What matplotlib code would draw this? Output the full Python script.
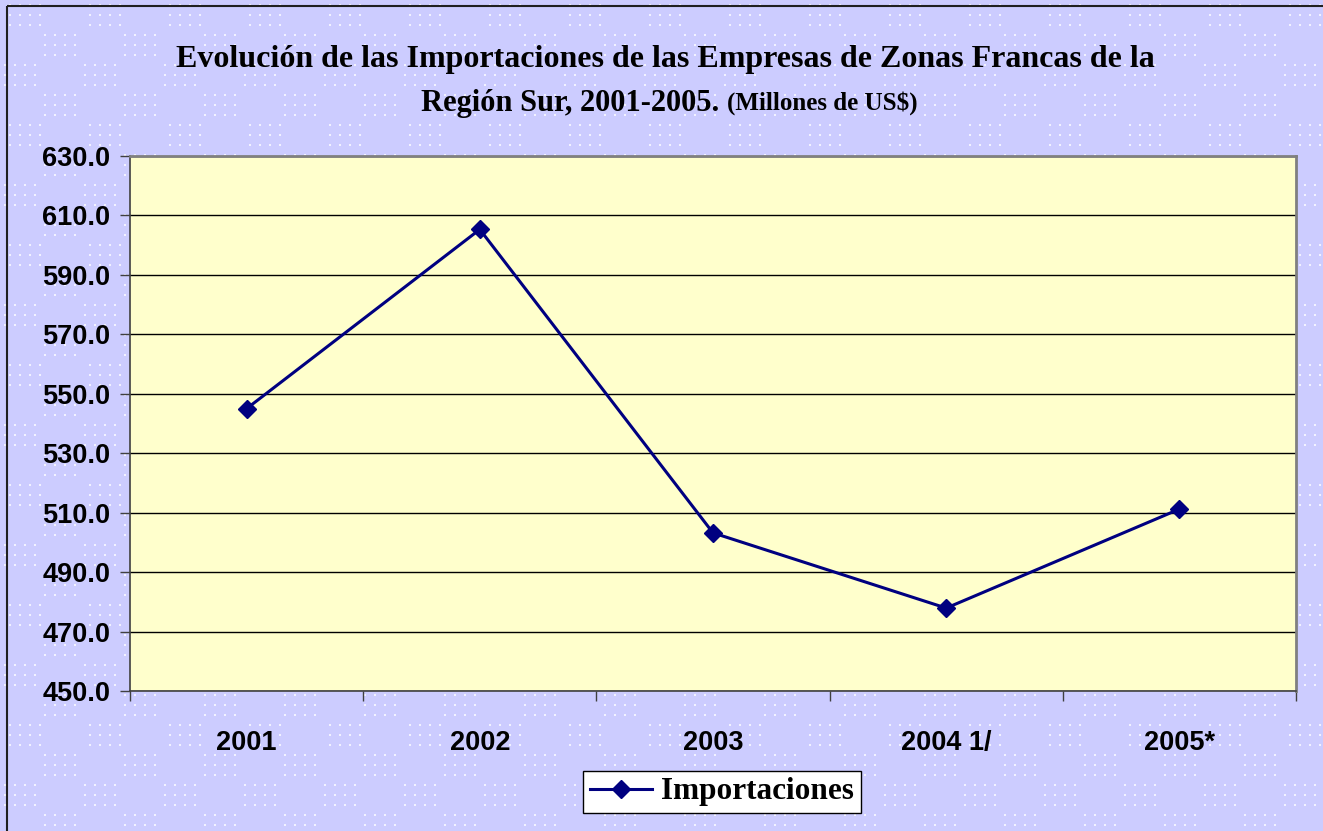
import matplotlib.pyplot as plt
import numpy as np
from matplotlib.patches import Rectangle

years = ['2001', '2002', '2003', '2004 1/', '2005*']
importaciones = [545.0, 605.3, 503.2, 477.9, 511.2]
yticks = [450, 470, 490, 510, 530, 550, 570, 590, 610, 630]

W, H = 1323, 831
fig = plt.figure(figsize=(W / 100, H / 100), dpi=100)
fig.patch.set_facecolor('#CCCCFF')

# dotted background pattern: checkerboard blocks of dots
bg = fig.add_axes([0, 0, 1, 1], zorder=-10)
bg.set_xlim(0, W)
bg.set_ylim(H, 0)
bg.axis('off')
xs, ys = [], []
bw, bh = 40, 30
for bi, bx in enumerate(range(0, W + bw, bw)):
    for bj, by in enumerate(range(0, H + bh, bh)):
        if (bi + bj) % 2:
            continue
        off = 5 if bj % 4 == 0 else 0
        for i in range(4):
            for j in range(3):
                xs.append(bx + 5 + i * 10 + off)
                ys.append(by + 5 + j * 10)
bg.scatter(xs, ys, s=2.2, c='#F2F2FF', marker='s', linewidths=0)
bg.add_patch(Rectangle((7, 6), W, H, fill=False, edgecolor='#202020', lw=1.5))

ax = fig.add_axes([130 / W, 1 - 691 / H, (1296 - 130) / W, (691 - 156) / H])
ax.set_facecolor('#FFFFCC')
x = np.arange(len(years))
ax.plot(x, importaciones, '-D', color='#000080', lw=2.2, ms=9.5, label='Importaciones')
ax.set_xlim(-0.5, len(years) - 0.5)
ax.set_ylim(450, 630)
ax.set_yticks(yticks)
ax.set_yticklabels(['%.1f' % v for v in yticks], fontfamily='Liberation Sans',
                   fontweight='bold', fontsize=19.5)
ax.set_xticks(x)
ax.set_xticklabels(years, fontfamily='Liberation Sans', fontweight='bold', fontsize=19.5)
ax.set_xticks(np.arange(-0.5, len(years), 1), minor=True)
ax.tick_params(axis='x', which='major', length=0, pad=28)
ax.tick_params(axis='x', which='minor', length=7, width=1, color='#404040', direction='out')
ax.tick_params(axis='y', length=7, width=1, color='#404040', direction='out', pad=7)
ax.grid(axis='y', color='black', lw=1)
ax.set_axisbelow(True)
for s in ['top', 'right']:
    ax.spines[s].set_color('#808080')
    ax.spines[s].set_linewidth(2)
for s in ['left', 'bottom']:
    ax.spines[s].set_color('#404040')
    ax.spines[s].set_linewidth(1.2)

fig.text(665 / W, 1 - 60 / H,
         'Evolución de las Importaciones de las Empresas de Zonas Francas de la',
         ha='center', va='center', fontfamily='Liberation Serif', fontweight='bold', fontsize=23)
t1 = fig.text(0.5, 1 - 103 / H, 'Región Sur, 2001-2005. ', ha='right', va='center',
              fontfamily='Liberation Serif', fontweight='bold', fontsize=22)
t2 = fig.text(0.5, 1 - 103 / H, '(Millones de US$)', ha='left', va='center',
              fontfamily='Liberation Serif', fontweight='bold', fontsize=18)
fig.canvas.draw()
r = fig.canvas.get_renderer()
w1 = t1.get_window_extent(r).width
w2 = t2.get_window_extent(r).width
cx = 669
t1.set_position(((cx - (w1 + w2) / 2 + w1) / W, 1 - 103 / H))
t2.set_position(((cx - (w1 + w2) / 2 + w1) / W, 1 - 103 / H))

leg = fig.legend(loc='center', bbox_to_anchor=(722 / W, 1 - 792 / H), frameon=True,
                 fancybox=False, edgecolor='black', handlelength=2.0, framealpha=1,
                 prop={'family': 'Liberation Serif', 'weight': 'bold', 'size': 22.5},
                 borderpad=0.2, handletextpad=0.3)
leg.get_frame().set_linewidth(1)

fig.savefig('out.png', dpi=100, facecolor=fig.get_facecolor())
